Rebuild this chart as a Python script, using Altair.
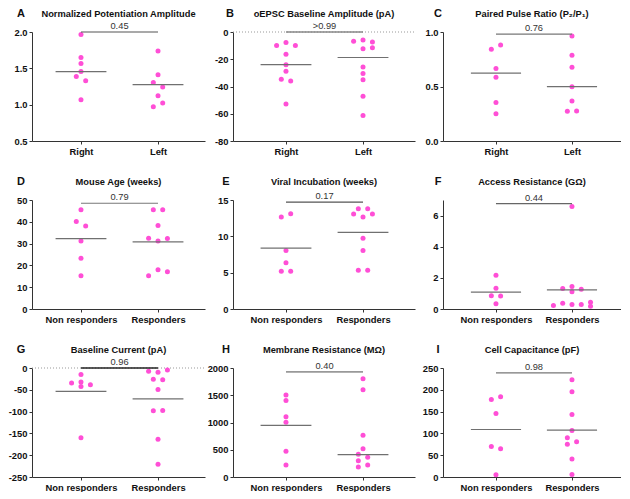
import altair as alt
import pandas as pd

FONT = "Liberation Sans"
PINK = "#ff4fd6"

CATS_TOP = ["Right", "Left"]
CATS_BOTTOM = ["Non responders", "Responders"]

# ---- Panel A: Normalized Potentiation Amplitude
A_g0 = [1.964, 1.649, 1.568, 1.455, 1.387, 1.329, 1.068]
A_s0 = [0, 0, 0, 0, -1, 1, 0]
A_g1 = [1.739, 1.41, 1.306, 1.243, 1.122, 1.023, 0.973]
A_s1 = [0, 0, -1, 1, 0, 1, -1]
A_med = [1.455, 1.275]

# ---- Panel B: oEPSC Baseline Amplitude (pA)
B_g0 = [-9.9, -7.7, -9.9, -16.3, -24.0, -28.8, -34.6, -36.0, -52.9]
B_s0 = [-2, 0, 2, 0, 0, 0, -1, 1, 0]
B_g1 = [-6.7, -5.8, -7.4, -12.3, -11.5, -25.7, -30.5, -35.1, -47.1, -61.3]
B_s1 = [-2, 0, 2, 0, 2, 0, 0, 0, 0, 0]
B_med = [-24.0, -18.7]

# ---- Panel C: Paired Pulse Ratio
C_g0 = [0.841, 0.880, 0.664, 0.586, 0.354, 0.249]
C_s0 = [-1, 1, 0, 0, 0, 0]
C_g1 = [0.964, 0.787, 0.676, 0.498, 0.366, 0.273, 0.276]
C_s1 = [0, 0, 0, 0, 0, -1, 1]
C_med = [0.622, 0.498]

# ---- Panel D: Mouse Age (weeks)
D_g0 = [45.5, 40.1, 38.1, 31.2, 23.3, 15.3]
D_s0 = [0, -1, 1, 0, 0, 0]
D_g1 = [45.5, 45.5, 38.3, 32.4, 31.2, 32.3, 18.0, 17.1, 15.3]
D_s1 = [-1, 1, 0, -2, 0, 2, 0, 2, -2]
D_med = [32.3, 30.8]

# ---- Panel E: Viral Incubation (weeks)
E_g0 = [12.66, 13.1, 8.06, 6.35, 5.18, 5.18]
E_s0 = [-1, 1, 0, 0, -1, 1]
E_g1 = [13.78, 13.78, 13.06, 13.06, 12.66, 9.73, 8.06, 5.32, 5.32]
E_s1 = [-1, 1, -2, 2, 0, 0, 0, -1, 1]
E_med = [8.38, 10.54]

# ---- Panel F: Access Resistance (GOhm)
F_g0 = [2.17, 1.33, 0.85, 0.83, 0.33]
F_s0 = [0, 0, -1, 1, 0]
F_g1 = [6.58, 1.31, 1.44, 1.27, 1.10, 0.37, 0.29, 0.29, 0.44, 0.23, 0.17]
F_s1 = [0, -2, 0, 2, 0, -2, 0, 2, 4, -4, 4]
F_med = [1.08, 1.23]

# ---- Panel G: Baseline Current (pA)
G_g0 = [-14.9, -34.2, -32.0, -42.4, -38.7, -160.0]
G_s0 = [0, -2, 0, 0, 2, 0]
G_g1 = [-7.4, -9.7, -4.5, -26.0, -26.8, -49.1, -98.2, -97.5, -163.7, -221.0]
G_s1 = [-2, 0, 2, -1, 1, 0, -1, 1, 0, 0]
G_med = [-53.6, -70.7]

# ---- Panel H: Membrane Resistance (MOhm)
H_g0 = [1504, 1403, 1104, 1003, 472, 221]
H_s0 = [0, 0, 0, 0, 0, 0]
H_g1 = [1803, 1600, 764, 519, 418, 364, 299, 221, 185]
H_s1 = [0, 0, 0, 0, -1, 1, -1, 1, -1]
H_med = [949, 412]

# ---- Panel I: Cell Capacitance (pF)
I_g0 = [177.6, 184.3, 145.5, 70.1, 64.9, 5.2]
I_s0 = [-1, 1, 0, -1, 1, 0]
I_g1 = [223, 195.5, 143.3, 106.7, 90.3, 75.4, 80.6, 41, 6]
I_s1 = [0, 0, 0, 0, -1, -1, 1, 0, 0]
I_med = [109, 107.5]

LETTERS = ["A", "B", "C", "D", "E", "F", "G", "H", "I"]
TITLES = [
    "Normalized Potentiation Amplitude",
    "oEPSC Baseline Amplitude (pA)",
    "Paired Pulse Ratio (P\u2082/P\u2081)",
    "Mouse Age (weeks)",
    "Viral Incubation (weeks)",
    "Access Resistance (G\u03a9)",
    "Baseline Current (pA)",
    "Membrane Resistance (M\u03a9)",
    "Cell Capacitance (pF)",
]
P_TEXT = ["0.45", ">0.99", "0.76", "0.79", "0.17", "0.44", "0.96", "0.40", "0.98"]
BRACKET_Y = [2.0, 0, 0.98, 48.5, 14.7, 6.77, 0, 1928, 239]
Y_DOMAINS = [[0.5, 2.0], [-80, 0], [0, 1], [0, 50], [0, 15], [0, 7], [-250, 0], [0, 2000], [0, 250]]
Y_TICKS = [
    [0.5, 1.0, 1.5, 2.0],
    [0, -20, -40, -60, -80],
    [0, 0.5, 1.0],
    [0, 10, 20, 30, 40, 50],
    [0, 5, 10, 15],
    [0, 2, 4, 6],
    [0, -50, -100, -150, -200, -250],
    [0, 500, 1000, 1500, 2000],
    [0, 50, 100, 150, 200, 250],
]

COL_W = [173, 182, 178]
COL_XDOM = [[-0.636, 1.610], [-0.688, 1.675], [-0.697, 1.645]]
PANEL_H = 109


def make_panel(i, g0, s0, g1, s1, med, cats, decimals, letter_dx,
               zero=False, br_color="#666", br_width=1.2):
    col = i % 3
    width = COL_W[col]
    xs = alt.Scale(domain=COL_XDOM[col], nice=False, zero=False)
    ys = alt.Scale(domain=Y_DOMAINS[i], nice=False, zero=False)
    ylab = "format(datum.value, '.1f')" if decimals else "toString(datum.value)"
    xaxis = alt.Axis(values=[0, 1], title=None, grid=False,
                     labelExpr=f"datum.value < 0.5 ? '{cats[0]}' : '{cats[1]}'")
    yaxis = alt.Axis(values=Y_TICKS[i], title=None, grid=False, labelExpr=ylab)

    def X(f):
        return alt.X(f, scale=xs, axis=xaxis)

    def Y(f):
        return alt.Y(f, scale=ys, axis=yaxis)

    pts = pd.DataFrame({"g": [0] * len(g0) + [1] * len(g1),
                        "v": g0 + g1, "slot": s0 + s1})
    points = alt.Chart(pts).transform_calculate(
        xp="datum.g + datum.slot * 0.061"
    ).mark_circle(size=25, color=PINK, opacity=1).encode(x=X("xp:Q"), y=Y("v:Q"))

    meds = pd.DataFrame({"g": [0, 1], "m": med})
    med_layer = alt.Chart(meds).transform_calculate(
        a="datum.g - 0.33", b="datum.g + 0.33"
    ).mark_rule(color="#707070", strokeWidth=1.2).encode(
        x=X("a:Q"), x2="b:Q", y=Y("m:Q"),
    )

    br = pd.DataFrame({"a": [0], "b": [1], "y": [BRACKET_Y[i]], "t": [P_TEXT[i]]})
    br_layer = alt.Chart(br).mark_rule(color=br_color, strokeWidth=br_width).encode(
        x=X("a:Q"), x2="b:Q", y=Y("y:Q"),
    )
    p_layer = alt.Chart(br).transform_calculate(
        c="(datum.a + datum.b) / 2"
    ).mark_text(font=FONT, fontSize=9.3, color="#333", baseline="alphabetic", dy=-3).encode(
        x=X("c:Q"), y=Y("y:Q"), text="t:N",
    )

    head = pd.DataFrame({"letter": [LETTERS[i]], "title": [TITLES[i]]})
    letter_layer = alt.Chart(head).mark_text(
        font=FONT, fontSize=11, fontWeight="bold", color="#111",
        baseline="middle", align="center"
    ).encode(x=alt.value(letter_dx), y=alt.value(-18), text="letter:N")
    title_layer = alt.Chart(head).mark_text(
        font=FONT, fontSize=9.3, fontWeight="bold", color="#111",
        baseline="middle", align="center"
    ).encode(x=alt.value(width / 2), y=alt.value(-18), text="title:N")

    layers = []
    if zero:
        z = pd.DataFrame({"y": [0]})
        layers.append(
            alt.Chart(z).mark_rule(color="#999", strokeDash=[1, 2], strokeWidth=1).encode(
                x=alt.value(0), x2=alt.value(width), y=Y("y:Q"),
            )
        )
    layers += [points, med_layer, br_layer, p_layer, letter_layer, title_layer]
    return alt.layer(*layers).properties(width=width, height=PANEL_H)


panels = [
    make_panel(0, A_g0, A_s0, A_g1, A_s1, A_med, CATS_TOP, True, -11, br_color="#555", br_width=1.1),
    make_panel(1, B_g0, B_s0, B_g1, B_s1, B_med, CATS_TOP, False, -3, zero=True, br_color="#888", br_width=1.6),
    make_panel(2, C_g0, C_s0, C_g1, C_s1, C_med, CATS_TOP, True, -5, br_color="#777"),
    make_panel(3, D_g0, D_s0, D_g1, D_s1, D_med, CATS_BOTTOM, False, -11, br_color="#777"),
    make_panel(4, E_g0, E_s0, E_g1, E_s1, E_med, CATS_BOTTOM, False, -7, br_color="#555"),
    make_panel(5, F_g0, F_s0, F_g1, F_s1, F_med, CATS_BOTTOM, False, -5, br_color="#666"),
    make_panel(6, G_g0, G_s0, G_g1, G_s1, G_med, CATS_BOTTOM, False, -11, zero=True, br_color="#222", br_width=1.5),
    make_panel(7, H_g0, H_s0, H_g1, H_s1, H_med, CATS_BOTTOM, False, -7, br_color="#999", br_width=1.6),
    make_panel(8, I_g0, I_s0, I_g1, I_s1, I_med, CATS_BOTTOM, False, -5, br_color="#777"),
]

chart = alt.concat(
    *panels, columns=3, spacing={"row": 59, "column": 28},
    bounds="flush", align="each",
).properties(
    padding={"left": 0, "top": 0, "right": 0, "bottom": 0}
).configure_view(stroke=None).configure_axis(
    domainColor="#333", tickColor="#333", domainWidth=1, tickWidth=1, tickSize=3,
    labelFont=FONT, labelFontSize=9.4, labelFontWeight="bold", labelColor="#111",
    labelPadding=2,
).configure_axisX(labelPadding=3)

chart.save("out.html", embed_options={"renderer": "svg", "actions": False})
